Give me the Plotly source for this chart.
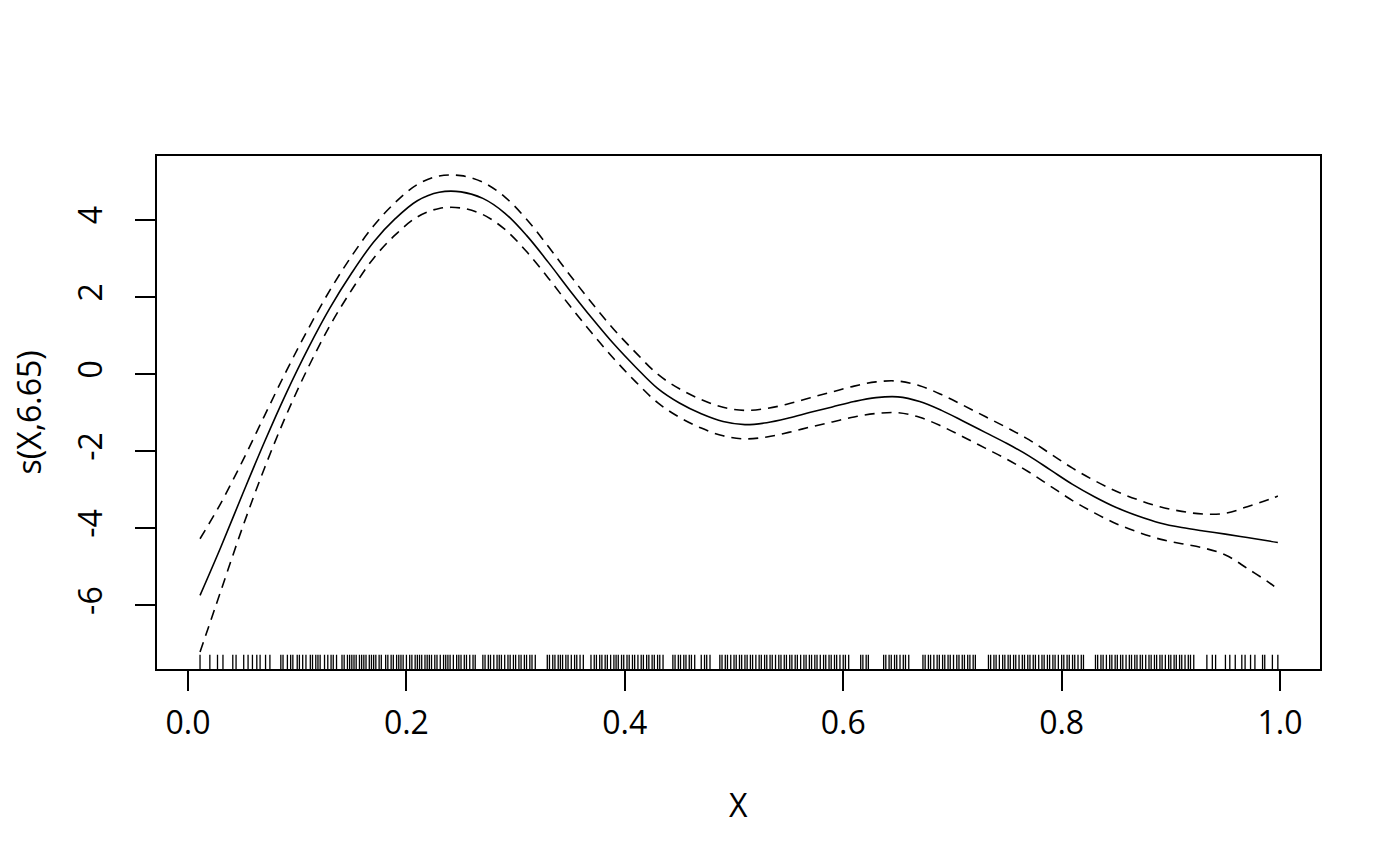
import plotly.graph_objects as go

# curva ajustada s(X,6.65) e erro-padrao
x_grid = [0.011, 0.03, 0.05, 0.07, 0.09, 0.11, 0.13, 0.15, 0.17, 0.19,
          0.21, 0.23, 0.25, 0.27, 0.29, 0.31, 0.33, 0.35, 0.37, 0.39,
          0.41, 0.43, 0.45, 0.47, 0.49, 0.51, 0.53, 0.55, 0.57, 0.59,
          0.61, 0.63, 0.65, 0.67, 0.69, 0.71, 0.73, 0.75, 0.77, 0.79,
          0.81, 0.83, 0.85, 0.87, 0.89, 0.91, 0.93, 0.95, 0.97, 0.99,
          0.998]
fit = [-5.74, -4.49, -3.11, -1.76, -0.49, 0.67, 1.72, 2.63, 3.43, 4.04,
       4.50, 4.72, 4.73, 4.56, 4.18, 3.60, 2.90, 2.16, 1.45, 0.78,
       0.18, -0.37, -0.75, -1.03, -1.23, -1.31, -1.26, -1.14, -0.99, -0.85,
       -0.71, -0.61, -0.59, -0.71, -0.94, -1.22, -1.51, -1.80, -2.12, -2.49,
       -2.86, -3.18, -3.46, -3.68, -3.86, -3.98, -4.07, -4.15, -4.24, -4.33,
       -4.37]
se = [0.735, 0.57, 0.43, 0.34, 0.285, 0.25, 0.23, 0.22, 0.21, 0.21,
      0.21, 0.21, 0.21, 0.21, 0.21, 0.21, 0.205, 0.20, 0.195, 0.19,
      0.19, 0.185, 0.185, 0.185, 0.185, 0.185, 0.185, 0.185, 0.19, 0.195,
      0.20, 0.205, 0.205, 0.205, 0.205, 0.205, 0.205, 0.205, 0.21, 0.21,
      0.21, 0.21, 0.21, 0.21, 0.21, 0.21, 0.22, 0.27, 0.40, 0.54,
      0.605]

# valores de X (rug)
rug_x = [
    0.011, 0.020, 0.027, 0.032,
    0.041, 0.044, 0.051, 0.055, 0.059, 0.063, 0.066, 0.071, 0.075,
    0.085, 0.087, 0.091, 0.094, 0.096, 0.100, 0.102, 0.105, 0.108, 0.112,
    0.114, 0.117, 0.119, 0.121, 0.125, 0.128, 0.131, 0.133, 0.136,
    0.141, 0.143, 0.146, 0.148, 0.150, 0.152, 0.154, 0.157, 0.159, 0.161,
    0.163, 0.166, 0.168, 0.170, 0.172, 0.175, 0.177,
    0.181, 0.183, 0.186, 0.188, 0.191, 0.193, 0.195, 0.197, 0.200, 0.203,
    0.205, 0.208, 0.210, 0.212, 0.214, 0.217, 0.219, 0.221, 0.223, 0.226,
    0.228, 0.231, 0.234, 0.236, 0.238, 0.240, 0.243, 0.246, 0.248, 0.250,
    0.253, 0.255, 0.258, 0.261, 0.263,
    0.270, 0.272, 0.275, 0.277, 0.280, 0.283, 0.285, 0.287, 0.290, 0.293,
    0.295, 0.298, 0.300, 0.303, 0.305, 0.308, 0.310, 0.313, 0.315, 0.318,
    0.329, 0.331, 0.334, 0.336, 0.339, 0.341, 0.343, 0.346, 0.348, 0.351,
    0.354, 0.356, 0.359, 0.362,
    0.369, 0.372, 0.374, 0.377, 0.379, 0.382, 0.384, 0.387, 0.390, 0.392,
    0.394, 0.397, 0.399, 0.402, 0.404, 0.407, 0.409, 0.412, 0.415, 0.417,
    0.420, 0.422, 0.425, 0.427, 0.430, 0.432, 0.435,
    0.444, 0.446, 0.449, 0.451, 0.454, 0.456, 0.459, 0.461, 0.464,
    0.470, 0.473, 0.475, 0.478,
    0.487, 0.489, 0.492, 0.494, 0.497, 0.500, 0.502, 0.505, 0.507, 0.510,
    0.512, 0.515, 0.517, 0.520, 0.523, 0.525, 0.528, 0.530, 0.533, 0.535,
    0.538, 0.541, 0.543, 0.546, 0.548, 0.551, 0.553, 0.556, 0.558, 0.561,
    0.564, 0.566, 0.569, 0.571, 0.574, 0.576, 0.579, 0.582, 0.584, 0.587,
    0.589, 0.592, 0.594, 0.597, 0.600, 0.602, 0.605,
    0.616, 0.618, 0.621, 0.623,
    0.637, 0.639, 0.642, 0.644, 0.647, 0.649, 0.652, 0.655, 0.657, 0.660,
    0.673, 0.675, 0.678, 0.680, 0.683, 0.686, 0.688, 0.691, 0.693, 0.696,
    0.698, 0.701, 0.704, 0.706, 0.709, 0.711, 0.714, 0.716, 0.719, 0.721,
    0.733, 0.735, 0.738, 0.740, 0.743, 0.746, 0.748, 0.751, 0.753, 0.756,
    0.758, 0.761, 0.764, 0.766, 0.769, 0.771, 0.774, 0.776, 0.779, 0.782,
    0.784, 0.787, 0.789, 0.792, 0.794, 0.797, 0.800, 0.802, 0.805, 0.807,
    0.810, 0.812, 0.815, 0.818, 0.820,
    0.831, 0.833, 0.836, 0.838, 0.841, 0.844, 0.846, 0.849, 0.851, 0.854,
    0.856, 0.859, 0.862, 0.864, 0.867, 0.869, 0.872, 0.874, 0.877, 0.880,
    0.882, 0.885, 0.887, 0.890, 0.892, 0.895, 0.898, 0.900, 0.903, 0.905,
    0.908, 0.910, 0.913, 0.916, 0.918, 0.921,
    0.933, 0.938, 0.941, 0.950, 0.954, 0.959, 0.965, 0.968, 0.973, 0.977,
    0.984, 0.986, 0.993, 0.998,
]

x_ticks = [0.0, 0.2, 0.4, 0.6, 0.8, 1.0]
x_labels = ['0.0', '0.2', '0.4', '0.6', '0.8', '1.0']
y_ticks = [-6, -4, -2, 0, 2, 4]
y_labels = ['-6', '-4', '-2', '0', '2', '4']

Y_MIN, Y_MAX = -7.65, 5.66
RUG_TOP = -7.28

upper = [f + 2 * s for f, s in zip(fit, se)]
lower = [f - 2 * s for f, s in zip(fit, se)]

fig = go.Figure()

# rug
rx, ry = [], []
for v in rug_x:
    rx += [v, v, None]
    ry += [Y_MIN, RUG_TOP, None]
fig.add_trace(go.Scatter(x=rx, y=ry, mode='lines',
                         line=dict(color='black', width=1.3), hoverinfo='skip'))

fig.add_trace(go.Scatter(x=x_grid, y=fit, mode='lines',
                         line=dict(color='black', width=1.6, shape='spline')))
for band in (upper, lower):
    fig.add_trace(go.Scatter(x=x_grid, y=band, mode='lines',
                             line=dict(color='black', width=1.6, shape='spline',
                                       dash='10px,7px')))

fonte = dict(family='Open Sans', size=32, color='black')

fig.update_layout(
    width=1400, height=866,
    margin=dict(l=149, r=88, t=148, b=205),
    plot_bgcolor='white', paper_bgcolor='white',
    showlegend=False,
    font=fonte,
)
fig.update_xaxes(range=[-0.0284, 1.0366], tickvals=x_ticks, ticktext=x_labels,
                 showgrid=False, zeroline=False,
                 showline=True, mirror=True, linecolor='black', linewidth=1.5,
                 ticks='outside', ticklen=20, tickwidth=1.5, tickcolor='black',
                 ticklabelstandoff=5)
fig.update_yaxes(range=[Y_MIN, Y_MAX], tickvals=y_ticks, ticktext=y_labels,
                 showgrid=False, zeroline=False,
                 showline=True, mirror=True, linecolor='black', linewidth=1.5,
                 ticks='outside', ticklen=20, tickwidth=1.5, tickcolor='black',
                 tickangle=-90, ticklabelstandoff=20)

fig.add_annotation(text='X', xref='paper', yref='paper', x=0.5, y=0,
                   yanchor='middle', yshift=-135, showarrow=False, font=fonte)
fig.add_annotation(text='s(X,6.65)', xref='paper', yref='paper', x=0, y=0.5,
                   xanchor='center', xshift=-129, textangle=-90,
                   showarrow=False, font=fonte)

fig.write_html("out.html")
